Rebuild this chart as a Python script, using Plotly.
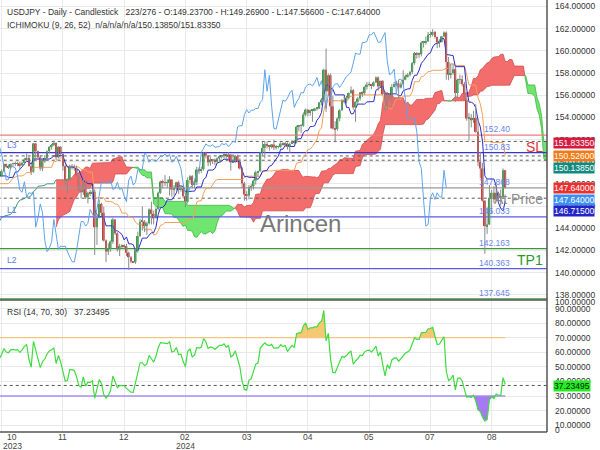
import numpy as np
import plotly.graph_objects as go

W, HP = 600, 450
SMALL = "Liberation Sans, Arial, sans-serif"
REG = "Liberation Sans, Arial, sans-serif"
FS = 8.5

# ---------------- data (USDJPY daily) ----------------
# history before the first visible bar (used only by indicators)
pre_high = [141.2, 142.7, 143.55, 143.9, 143.9, 142.8, 142.7, 143.4, 143.9, 144.75, 145.0, 145.6, 145.85, 146.4,
            146.55, 145.9, 146.3, 146.4, 146.0, 146.1, 146.65, 146.75, 147.4, 146.4, 146.3, 146.2, 146.6, 147.8,
            147.85, 147.85, 147.85, 147.5, 147.1, 147.7, 147.6, 148.0, 147.9, 148.2, 148.45, 148.2, 148.45, 148.95,
            149.2, 149.7, 149.7, 149.8, 149.9, 150.15, 149.2, 149.05, 149.55, 149.3, 148.85]
pre_low = [138.05, 139.4, 139.8, 140.2, 140.4, 140.6, 140.9, 142.0, 143.1, 143.5, 144.3, 144.7, 145.2, 145.3,
           145.6, 144.9, 145.3, 145.6, 144.5, 144.9, 145.85, 146.3, 145.6, 145.55, 145.35, 144.45, 146.0, 146.3,
           147.1, 147.0, 147.25, 145.9, 146.4, 146.9, 147.1, 147.3, 147.5, 147.6, 147.4, 147.3, 147.4, 148.3,
           148.8, 148.95, 149.2, 148.5, 149.4, 147.3, 148.2, 148.4, 147.3, 148.7, 148.15]
pre_close = [141.15, 142.3, 143.35, 143.3, 142.55, 141.75, 142.45, 143.4, 143.75, 144.75, 144.95, 145.55, 145.55,
             146.35, 145.8, 145.4, 146.2, 145.9, 144.8, 146.1, 146.4, 146.5, 145.9, 146.15, 145.55, 146.2, 146.5,
             147.7, 147.7, 147.3, 147.8, 146.55, 147.1, 147.45, 147.45, 147.85, 147.65, 147.85, 148.35, 147.6,
             148.4, 148.85, 149.05, 149.65, 149.3, 149.35, 149.85, 149.05, 149.05, 148.5, 149.3, 148.5, 148.7]

opens = [148.7, 149.15, 149.8, 149.55, 149.5, 149.8, 149.85, 149.8, 149.85, 149.7,
         149.9, 150.2, 150.35, 149.6, 149.1, 151.65, 150.95, 150.4, 149.4, 150.05,
         150.35, 150.95, 151.35, 151.5, 151.7, 150.4, 151.35, 150.7, 149.6, 148.35,
         148.4, 149.55, 149.55, 149.45, 148.7, 147.45, 147.25, 148.2, 146.8, 147.2,
         147.15, 147.3, 144.1, 144.95, 146.2, 145.4, 142.9, 141.9, 142.2, 142.8,
         144.8, 143.55, 142.1, 142.4, 142.35, 142.4, 141.8, 141.4, 141.0, 140.95,
         142.0, 143.3, 144.6, 144.6, 144.2, 144.45, 145.7, 145.3, 144.9, 145.75,
         147.2, 148.2, 148.15, 148.1, 148.1, 148.4, 147.5, 147.6, 148.15, 147.5,
         147.6, 146.9, 146.4, 148.35, 148.7, 147.9, 148.15, 149.3, 149.25, 149.35,
         150.8, 150.55, 149.95, 150.2, 150.15, 150.0, 150.3, 150.5, 150.5, 150.7,
         150.5, 150.65, 149.95, 150.1, 150.5, 150.0, 149.4, 148.05, 147.05, 146.95,
         147.7, 147.8, 148.3, 149.05, 149.15, 150.85, 151.25, 151.6, 151.45, 151.4,
         151.55, 151.3, 151.35, 151.35, 151.65, 151.55, 151.65, 151.35, 151.6, 151.85,
         151.75, 153.15, 153.25, 153.25, 154.25, 154.7, 154.4, 154.65, 154.65, 154.8,
         154.8, 155.35, 155.6, 158.3, 156.35, 157.8, 155.0, 153.0, 152.95, 153.9,
         154.65, 155.55, 155.45, 155.75, 156.2, 156.45, 154.9, 155.4, 155.7, 156.25,
         156.2, 156.75, 156.95, 157.0, 156.85, 157.15, 157.6, 156.8, 157.3, 156.1,
         154.8, 156.1, 155.6, 156.75, 157.0, 157.05, 156.7, 157.0, 157.4, 157.7,
         157.85, 158.1, 158.9, 159.8, 159.7, 159.7, 160.75, 160.75, 160.85, 161.45,
         161.45, 161.7, 161.25, 160.75, 160.8, 161.3, 161.65, 159.0, 157.85, 158.0,
         158.35, 156.2, 157.4, 157.45, 157.0, 155.6, 153.9, 153.95, 153.75, 153.95,
         152.7, 150.0, 149.4, 146.5, 144.2, 144.35, 146.75, 147.2, 146.6, 147.2,
         146.85, 146.8, 149.237]
highs = [149.3, 149.85, 149.85, 149.75, 149.85, 149.9, 150.0, 150.0, 150.0, 150.0,
         150.35, 150.75, 150.45, 149.85, 151.7, 151.7, 151.0, 150.6, 150.2, 150.6,
         151.0, 151.4, 151.6, 151.9, 151.75, 151.4, 151.4, 150.8, 149.75, 148.5,
         149.75, 149.8, 149.75, 149.65, 148.85, 147.8, 148.5, 148.3, 147.3, 147.45,
         147.5, 147.5, 145.2, 146.6, 146.3, 145.95, 143.0, 142.65, 142.9, 144.95,
         144.8, 143.65, 142.6, 142.55, 142.55, 142.6, 141.9, 141.5, 141.05, 142.2,
         143.7, 144.85, 145.98, 144.75, 144.6, 145.8, 146.4, 145.6, 145.9, 147.3,
         148.3, 148.4, 148.8, 148.4, 148.7, 148.4, 147.9, 148.2, 148.3, 147.9,
         147.95, 147.2, 148.6, 148.8, 148.8, 148.3, 149.55, 149.5, 149.55, 150.9,
         150.9, 150.6, 150.45, 150.25, 150.3, 150.4, 150.6, 150.6, 150.8, 150.75,
         150.85, 150.7, 150.7, 150.6, 150.65, 150.3, 149.5, 148.2, 147.35, 147.9,
         148.0, 148.4, 149.2, 149.2, 150.9, 151.8, 151.85, 151.85, 151.5, 151.6,
         151.97, 151.5, 151.45, 151.75, 151.75, 151.8, 151.75, 151.75, 151.95, 151.95,
         153.25, 153.3, 153.4, 154.45, 154.8, 154.75, 154.7, 154.7, 154.85, 154.9,
         155.4, 155.75, 158.4, 160.2, 157.95, 157.95, 155.95, 153.65, 154.0, 154.75,
         155.65, 155.95, 155.95, 156.25, 156.8, 156.55, 155.45, 155.85, 156.3, 156.35,
         156.8, 157.2, 157.2, 157.0, 157.25, 157.7, 157.7, 157.3, 157.35, 156.35,
         156.3, 156.2, 157.0, 157.2, 157.3, 157.35, 157.2, 158.25, 157.85, 158.0,
         158.2, 159.0, 159.9, 159.9, 159.85, 160.85, 160.9, 161.3, 161.7, 161.75,
         161.95, 161.8, 161.3, 161.05, 161.35, 161.75, 161.75, 159.45, 158.85, 158.85,
         158.6, 157.5, 157.85, 157.8, 157.2, 155.75, 154.4, 154.3, 154.6, 155.2,
         153.9, 150.9, 149.9, 146.5, 145.9, 147.9, 147.45, 147.8, 147.9, 147.3,
         147.5, 149.4, 149.269]
lows = [148.65, 149.05, 149.45, 149.35, 149.35, 149.55, 149.6, 149.6, 149.3, 149.55,
        149.7, 150.0, 149.6, 148.8, 149.0, 150.3, 150.15, 149.2, 149.15, 149.9,
        150.1, 150.75, 151.1, 151.4, 150.15, 150.35, 150.6, 149.2, 147.9, 147.15,
        148.3, 149.3, 149.2, 148.6, 147.35, 146.7, 147.0, 146.65, 146.25, 146.9,
        146.6, 141.6, 142.5, 144.9, 145.1, 142.8, 140.95, 141.6, 141.9, 142.6,
        143.4, 141.9, 141.5, 142.2, 142.1, 141.5, 140.25, 140.85, 140.85, 140.8,
        141.8, 143.2, 143.8, 143.65, 143.4, 144.35, 144.35, 144.35, 144.9, 145.6,
        147.1, 147.6, 147.8, 147.65, 146.95, 146.85, 146.95, 147.4, 147.1, 147.3,
        146.7, 145.9, 146.25, 148.05, 147.6, 147.6, 147.9, 148.9, 149.0, 149.2,
        150.3, 149.6, 149.65, 149.8, 149.7, 149.8, 150.0, 150.3, 150.3, 150.2,
        150.3, 149.2, 149.9, 149.9, 149.95, 149.3, 147.6, 146.5, 146.5, 146.6,
        147.35, 147.5, 147.95, 148.6, 149.1, 150.6, 150.3, 151.2, 151.0, 151.2,
        151.05, 151.1, 151.2, 151.25, 151.45, 151.35, 151.1, 150.8, 151.6, 151.55,
        151.65, 152.75, 152.6, 153.15, 154.1, 154.1, 154.15, 153.6, 154.55, 154.6,
        154.75, 155.1, 155.4, 154.5, 155.95, 153.0, 152.9, 151.86, 152.8, 153.65,
        154.6, 155.25, 155.25, 155.6, 156.1, 154.7, 153.6, 155.2, 155.5, 155.85,
        156.05, 156.5, 156.8, 156.55, 156.75, 157.1, 156.4, 156.75, 156.0, 154.55,
        154.7, 155.45, 154.9, 156.7, 156.8, 155.7, 156.6, 156.9, 157.35, 157.6,
        157.7, 157.9, 158.75, 159.3, 159.35, 159.5, 160.3, 160.55, 160.8, 161.2,
        161.3, 161.1, 160.25, 160.3, 160.75, 161.2, 157.4, 157.35, 157.5, 157.85,
        155.4, 155.75, 157.0, 156.8, 155.55, 153.7, 151.9, 153.1, 153.5, 152.6,
        149.6, 148.5, 146.4, 141.7, 143.5, 144.3, 145.3, 146.3, 146.5, 146.5,
        146.05, 146.75, 147.566]
closes = [149.15, 149.8, 149.55, 149.5, 149.8, 149.85, 149.8, 149.85, 149.7, 149.9,
          150.2, 150.35, 149.6, 149.1, 151.65, 150.95, 150.4, 149.4, 150.05, 150.35,
          150.95, 151.35, 151.5, 151.7, 150.4, 151.35, 150.7, 149.6, 148.35, 148.4,
          149.55, 149.55, 149.45, 148.7, 147.45, 147.25, 148.2, 146.8, 147.2, 147.15,
          147.3, 144.1, 144.95, 146.2, 145.4, 142.9, 141.9, 142.2, 142.8, 144.8,
          143.55, 142.1, 142.4, 142.35, 142.4, 141.8, 141.4, 141.0, 140.95, 142.0,
          143.3, 144.6, 144.6, 144.2, 144.45, 145.7, 145.3, 144.9, 145.75, 147.2,
          148.2, 148.15, 148.1, 148.1, 148.4, 147.5, 147.6, 148.15, 147.5, 147.6,
          146.9, 146.4, 148.35, 148.7, 147.9, 148.15, 149.3, 149.25, 149.35, 150.8,
          150.55, 149.95, 150.2, 150.15, 150.0, 150.3, 150.5, 150.5, 150.7, 150.5,
          150.65, 149.95, 150.1, 150.5, 150.0, 149.4, 148.05, 147.05, 146.95, 147.7,
          147.8, 148.3, 149.05, 149.15, 150.85, 151.25, 151.6, 151.45, 151.4, 151.55,
          151.3, 151.35, 151.35, 151.65, 151.55, 151.65, 151.35, 151.6, 151.85, 151.75,
          153.15, 153.25, 153.25, 154.25, 154.7, 154.4, 154.65, 154.65, 154.8, 154.8,
          155.35, 155.6, 158.3, 156.35, 157.8, 155.0, 153.0, 152.95, 153.9, 154.65,
          155.55, 155.45, 155.75, 156.2, 156.45, 154.9, 155.4, 155.7, 156.25, 156.2,
          156.75, 156.95, 157.0, 156.85, 157.15, 157.6, 156.8, 157.3, 156.1, 154.8,
          156.1, 155.6, 156.75, 157.0, 157.05, 156.7, 157.0, 157.4, 157.7, 157.85,
          158.1, 158.9, 159.8, 159.7, 159.7, 160.75, 160.75, 160.85, 161.45, 161.45,
          161.7, 161.25, 160.75, 160.8, 161.3, 161.65, 159.0, 157.85, 158.0, 158.35,
          156.2, 157.4, 157.45, 157.0, 155.6, 153.9, 153.95, 153.75, 153.95, 152.7,
          150.0, 149.4, 146.5, 144.2, 144.35, 146.75, 147.2, 146.6, 147.2, 146.85,
          146.8, 149.24, 147.64]

tick_bars = [0, 27, 54, 81, 108, 135, 162, 189, 216]
tick_month = ["10", "11", "12", "02", "03", "04", "05", "07", "08"]
tick_year = ["2023", "", "", "2024", "", "", "", "", ""]
price_ticks = list(range(138, 165, 2))
rsi_ticks = list(range(10, 100, 10))

level_values = [152.40, 150.83, 145.033, 142.163, 140.363, 137.645]
level_names = ["152.40", "150.83", "145.033", "142.163", "140.363", "137.645"]
level_colors = ["#ef7d7d", "#3535cf", "#5a5ae6", "#3a983a", "#5a5ae6", "#3a983a"]
dashed_values = [151.8335, 150.526, 150.1385, 146.715]
current_price = 147.64
extra_level = 147.868
rsi_last = 37.23495
side_labels = [("151.83350", "#d6193e", "white"), ("150.52600", "#f07b16", "white"),
               ("150.13850", "#13897e", "white"), ("147.64000", "#e8302e", "white"),
               ("147.64000", "#3b8ff0", "white"), ("146.71500", "#2424c6", "white")]

# ---------------- indicators ----------------
n_pre = len(pre_high)
Hh = np.array(pre_high + highs)
Ll = np.array(pre_low + lows)
Cc = np.array(pre_close + closes)
N = len(Hh)
g_idx = np.arange(N)
xv = g_idx - n_pre          # visible bar index


def midline(p):
    out = np.full(N, np.nan)
    for g in range(p - 1, N):
        out[g] = (Hh[g - p + 1:g + 1].max() + Ll[g - p + 1:g + 1].min()) / 2
    return out


tenkan = midline(9)
kijun = midline(26)
spanA = (tenkan + kijun) / 2
spanB = midline(52)

# RSI (Wilder)
d = np.diff(Cc)
gain = np.clip(d, 0, None)
loss = np.clip(-d, 0, None)
rsi = np.full(N, np.nan)
ag, al = gain[:14].mean(), loss[:14].mean()
rsi[14] = 100 - 100 / (1 + ag / al)
for g in range(15, N):
    ag = (ag * 13 + gain[g - 1]) / 14
    al = (al * 13 + loss[g - 1]) / 14
    rsi[g] = 100 - 100 / (1 + ag / al)


def runs(x, a, b):
    """split into runs of constant sign of a-b with interpolated crossings"""
    out = []
    cur = None
    for i in range(len(x)):
        s = a[i] >= b[i]
        if cur is None:
            cur = [s, [x[i]], [a[i]], [b[i]]]
            continue
        if s != cur[0]:
            d0 = a[i - 1] - b[i - 1]
            d1 = a[i] - b[i]
            t = d0 / (d0 - d1)
            xc = x[i - 1] + t * (x[i] - x[i - 1])
            yc = a[i - 1] + t * (a[i] - a[i - 1])
            cur[1].append(xc); cur[2].append(yc); cur[3].append(yc)
            out.append(cur)
            cur = [s, [xc, x[i]], [yc, a[i]], [yc, b[i]]]
        else:
            cur[1].append(x[i]); cur[2].append(a[i]); cur[3].append(b[i])
    out.append(cur)
    return out


fig = go.Figure()

# ---- cloud ----
mask = ~np.isnan(spanA) & ~np.isnan(spanB)
cx = (xv + 26)[mask].astype(float)
ca = spanA[mask]
cb = spanB[mask]
for s, rx, ra, rb in runs(list(cx), list(ca), list(cb)):
    fillc = "rgba(242,98,98,0.93)" if s else "rgba(104,228,104,0.95)"
    linec = "#d24c4c" if s else "#3fb83f"
    fig.add_trace(go.Scatter(x=rx + rx[::-1], y=ra + rb[::-1], fill="toself", fillcolor=fillc,
                             mode="lines", line=dict(color=linec, width=0.8), xaxis="x", yaxis="y",
                             hoverinfo="skip", showlegend=False))
# span A alone before span B exists
ma = ~np.isnan(spanA) & np.isnan(spanB)
last_b = np.where(mask)[0][0]
sel = list(np.where(ma)[0]) + [last_b]
fig.add_trace(go.Scatter(x=(xv + 26)[sel], y=spanA[sel], mode="lines",
                         line=dict(color="#3a9b7e", width=1), xaxis="x", yaxis="y", showlegend=False))

XR = [-0.75, 240.4]

# ---- horizontal levels ----
for v, c in zip(level_values, level_colors):
    fig.add_trace(go.Scatter(x=[XR[0] - 1, XR[1] + 1], y=[v, v], mode="lines",
                             line=dict(color=c, width=1.3), xaxis="x", yaxis="y", showlegend=False))
fig.add_trace(go.Scatter(x=[XR[0] - 1, XR[1] + 1], y=[current_price] * 2, mode="lines",
                         line=dict(color="#9a9a9a", width=1.2), xaxis="x", yaxis="y", showlegend=False))
for v in dashed_values:
    fig.add_trace(go.Scatter(x=[XR[0] - 1, XR[1] + 1], y=[v, v], mode="lines",
                             line=dict(color="#5a5a5a", width=1, dash="3px,3px"), xaxis="x", yaxis="y",
                             showlegend=False))

# ---- ichimoku lines ----
m = ~np.isnan(kijun)
fig.add_trace(go.Scatter(x=xv[m], y=kijun[m], mode="lines", line=dict(color="#f5a055", width=1),
                         xaxis="x", yaxis="y", showlegend=False))
m = ~np.isnan(tenkan)
fig.add_trace(go.Scatter(x=xv[m], y=tenkan[m], mode="lines", line=dict(color="#2a2acb", width=1),
                         xaxis="x", yaxis="y", showlegend=False))
fig.add_trace(go.Scatter(x=xv - 26, y=Cc, mode="lines", line=dict(color="#5ea4ec", width=1),
                         xaxis="x", yaxis="y", showlegend=False))

# ---- candles ----
nb = len(closes)
bx = list(range(nb))
wx, wy = [], []
for i in bx:
    wx += [i, i, None]
    wy += [lows[i], highs[i], None]
fig.add_trace(go.Scatter(x=wx, y=wy, mode="lines", line=dict(color="#8a8a8a", width=1),
                         xaxis="x", yaxis="y", showlegend=False))
base = [min(o, c) for o, c in zip(opens, closes)]
hgt = [max(abs(c - o), 0.06) for o, c in zip(opens, closes)]
cols = ["#28a83c" if c >= o else "#e2342f" for o, c in zip(opens, closes)]
fig.add_trace(go.Bar(x=bx, y=hgt, base=base, width=0.8, marker=dict(color=cols, line=dict(width=0)),
                     xaxis="x", yaxis="y", showlegend=False))

# ---- RSI ----
rm = (~np.isnan(rsi)) & (xv >= -2)
rx = list(xv[rm].astype(float))
ry = list(rsi[rm])
for s, px_, pa, pb in runs(rx, ry, [70.0] * len(rx)):
    if s:
        fig.add_trace(go.Scatter(x=px_ + px_[::-1], y=pa + pb[::-1], fill="toself",
                                 fillcolor="rgba(244,190,90,0.85)", mode="lines", line=dict(width=0),
                                 xaxis="x2", yaxis="y2", showlegend=False))
for s, px_, pa, pb in runs(rx, [30.0] * len(rx), ry):
    if s:
        fig.add_trace(go.Scatter(x=px_ + px_[::-1], y=pa + pb[::-1], fill="toself",
                                 fillcolor="rgba(150,100,240,0.85)", mode="lines", line=dict(width=0),
                                 xaxis="x2", yaxis="y2", showlegend=False))
fig.add_trace(go.Scatter(x=[XR[0] - 1, nb - 1], y=[70, 70], mode="lines", line=dict(color="#f6c47c", width=1.3),
                         xaxis="x2", yaxis="y2", showlegend=False))
fig.add_trace(go.Scatter(x=[XR[0] - 1, nb - 1], y=[30, 30], mode="lines", line=dict(color="#a88cf2", width=1.3),
                         xaxis="x2", yaxis="y2", showlegend=False))
fig.add_trace(go.Scatter(x=[XR[0] - 1, XR[1] + 1], y=[rsi_last] * 2, mode="lines",
                         line=dict(color="#555", width=1, dash="3px,3px"), xaxis="x2", yaxis="y2",
                         showlegend=False))
fig.add_trace(go.Scatter(x=rx, y=ry, mode="lines", line=dict(color="#3fdc3f", width=1.2),
                         xaxis="x2", yaxis="y2", showlegend=False))

# ---------------- layout ----------------
XD = 547 / W
grid = "#e9e9e9"
tf = dict(family=SMALL, size=FS, color="#333")
ax_common = dict(domain=[0, XD], range=XR, tickvals=tick_bars, showticklabels=False, showgrid=True,
                 gridcolor=grid, zeroline=False, showline=False, ticks="")


def py(p):
    return 1 - p / HP


def ann(text, x, y, size=FS, color="#333", xanchor="left", family=SMALL, **kw):
    d = dict(text=text, x=x / W, y=py(y), xref="paper", yref="paper", xanchor=xanchor, yanchor="middle",
             showarrow=False, font=dict(family=family, size=size, color=color))
    d.update(kw)
    return d


annotations = [
    ann("USDJPY - Daily - Candlestick &nbsp; 223/276 - O:149.23700 - H:149.26900 - L:147.56600 - C:147.64000",
        5, 11.5),
    ann("ICHIMOKU (9, 26, 52) &nbsp;n/a/n/a/n/a/150.13850/151.83350", 5, 25),
    ann("RSI (14, 70, 30) &nbsp; 37.23495", 5, 311.5),
    ann("L3", 5, 145, color="#5b78e0"),
    ann("L1", 5, 210, color="#5b78e0"),
    ann("L2", 5, 260, color="#5b78e0"),
    ann("Arincen", 300, 223, size=24, color="#777", xanchor="center", family=REG),
    ann("At Price", 518, 199, size=14, color="#8a8a8a", xanchor="center"),
    ann("SL", 534, 147, size=14, color="#e03030", xanchor="center"),
    ann("TP1", 530, 260, size=14, color="#2a9a2a", xanchor="center"),
    ann("100.00000", 553, 302),
    ann("0", 553, 430),
]
for v, name in zip(level_values, level_names):
    annotations.append(dict(text=name, x=512 / W, y=v, xref="paper", yref="y", xanchor="right",
                            yanchor="middle", yshift=6, showarrow=False,
                            font=dict(family=SMALL, size=FS, color="#6a86ee")))
annotations.append(dict(text=f"{extra_level:.3f}", x=512 / W, y=extra_level, xref="paper", yref="y",
                        xanchor="right", yanchor="middle", yshift=3, showarrow=False,
                        font=dict(family=SMALL, size=FS, color="#6a86ee")))
box_y = [142.5, 156.5, 168, 188, 199.5, 211]
for (t, bg, fc), yy in zip(side_labels, box_y):
    annotations.append(ann(t, 553, yy, color=fc, bgcolor=bg, borderpad=0))
annotations.append(ann(f"{rsi_last:.5f}", 553, 385.5, color="#111", bgcolor="#22ee22", borderpad=0))
for b, mth, yr in zip(tick_bars, tick_month, tick_year):
    xpix = 1.7 + b * 2.268
    if b == 0:
        xpix = 12
    annotations.append(ann(mth, xpix, 437, color="#444", xanchor="center"))
    if yr:
        annotations.append(ann(yr, xpix, 445.5, color="#444", xanchor="center"))

shapes = [
    dict(type="line", xref="paper", yref="paper", x0=XD, x1=XD, y0=py(432), y1=1,
         line=dict(color="#555", width=1.5)),
    dict(type="line", xref="paper", yref="paper", x0=0, x1=XD, y0=py(432), y1=py(432),
         line=dict(color="#555", width=1.5)),
    dict(type="line", xref="paper", yref="paper", x0=0, x1=XD, y0=py(300), y1=py(300),
         line=dict(color="#555", width=1.5)),
]

fig.update_layout(
    width=W, height=HP, margin=dict(l=0, r=0, t=0, b=0),
    paper_bgcolor="white", plot_bgcolor="white", barmode="overlay", showlegend=False,
    xaxis=dict(anchor="y", **ax_common),
    xaxis2=dict(anchor="y2", matches="x", **ax_common),
    yaxis=dict(domain=[py(300), 1], range=[137.536, 164.586], side="right", anchor="x",
               tickvals=price_ticks, tickformat=".5f", showgrid=True, gridcolor=grid, zeroline=False,
               showline=False, ticks="", tickfont=tf, ticklabelstandoff=7),
    yaxis2=dict(domain=[py(432), py(300)], range=[5.3, 95.87], side="right", anchor="x2",
                tickvals=rsi_ticks, tickformat=".5f", showgrid=True, gridcolor=grid, zeroline=False,
                showline=False, ticks="", tickfont=tf, ticklabelstandoff=7),
    annotations=annotations, shapes=shapes,
)

fig.write_html("out.html")
